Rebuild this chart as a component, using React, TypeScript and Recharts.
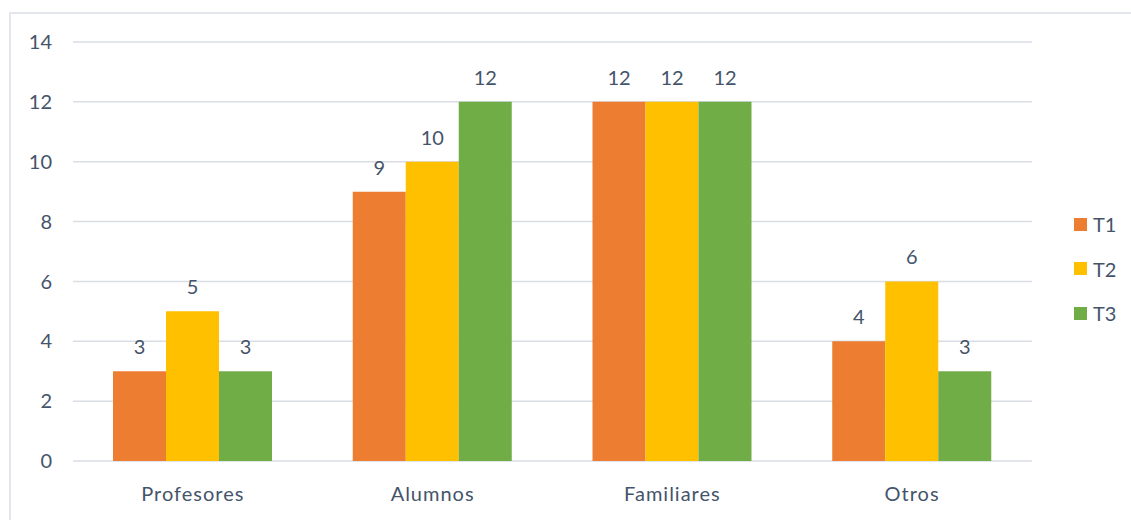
import React from 'react';
import { Bar, BarChart, CartesianGrid, LabelList, Legend, XAxis, YAxis } from 'recharts';

const categories = ['Profesores', 'Alumnos', 'Familiares', 'Otros'];
const t1Values = [3, 9, 12, 4];
const t2Values = [5, 10, 12, 6];
const t3Values = [3, 12, 12, 3];
const yTicks = [0, 2, 4, 6, 8, 10, 12, 14];

const seriesList = [
  { key: 'T1', color: '#ED7D31' },
  { key: 'T2', color: '#FFC000' },
  { key: 'T3', color: '#70AD47' }
];

const TEXT = '#44546A';
const GRID = '#D9DEE6';
const FONT = 'Lato, "Open Sans", sans-serif';

const data = categories.map((name, i) => ({
  name,
  T1: t1Values[i],
  T2: t2Values[i],
  T3: t3Values[i]
}));

const ChartLegend = () => (
  <div style={{ fontFamily: FONT }}>
    {seriesList.map((s) => (
      <div key={s.key} style={{ display: 'flex', alignItems: 'center', height: 44.5 }}>
        <span style={{ width: 13, height: 13, background: s.color, display: 'inline-block' }} />
        <span style={{ marginLeft: 6, fontSize: 20, color: TEXT }}>{s.key}</span>
      </div>
    ))}
  </div>
);

const App: React.FC = () => {
  return (
    <div
      style={{
        position: 'absolute',
        left: 0,
        top: 0,
        width: 1131,
        height: 520,
        overflow: 'hidden',
        background: '#fff'
      }}
    >
      <div
        style={{
          position: 'absolute',
          left: 9,
          top: 12,
          width: 1200,
          height: 600,
          border: '2px solid #E3E7ED'
        }}
      />
      <div style={{ position: 'absolute', left: 0, top: 0 }}>
        <BarChart
          width={1131}
          height={520}
          data={data}
          margin={{ top: 42, right: 39, bottom: 19, left: 13 }}
          barGap={0}
          barCategoryGap={40}
        >
          <CartesianGrid vertical={false} stroke={GRID} strokeWidth={1.5} />
          <XAxis
            dataKey="name"
            height={40}
            axisLine={false}
            tickLine={false}
            tickSize={0}
            tickMargin={26}
            tick={{ fill: TEXT, fontSize: 20, fontFamily: FONT, letterSpacing: 1 }}
          />
          <YAxis
            width={60}
            domain={[0, 14]}
            ticks={yTicks}
            axisLine={false}
            tickLine={false}
            tickSize={0}
            tickMargin={21}
            tick={{ fill: TEXT, fontSize: 20, fontFamily: FONT }}
          />
          <Legend
            layout="vertical"
            align="right"
            verticalAlign="top"
            content={<ChartLegend />}
            wrapperStyle={{ left: 1074, top: 202, right: 'auto', width: 60 }}
          />
          {seriesList.map((s) => (
            <Bar key={s.key} dataKey={s.key} fill={s.color} isAnimationActive={false}>
              <LabelList
                dataKey={s.key}
                position="top"
                offset={17}
                fill={TEXT}
                fontSize={20}
                fontFamily={FONT}
              />
            </Bar>
          ))}
        </BarChart>
      </div>
    </div>
  );
};

export default App;
